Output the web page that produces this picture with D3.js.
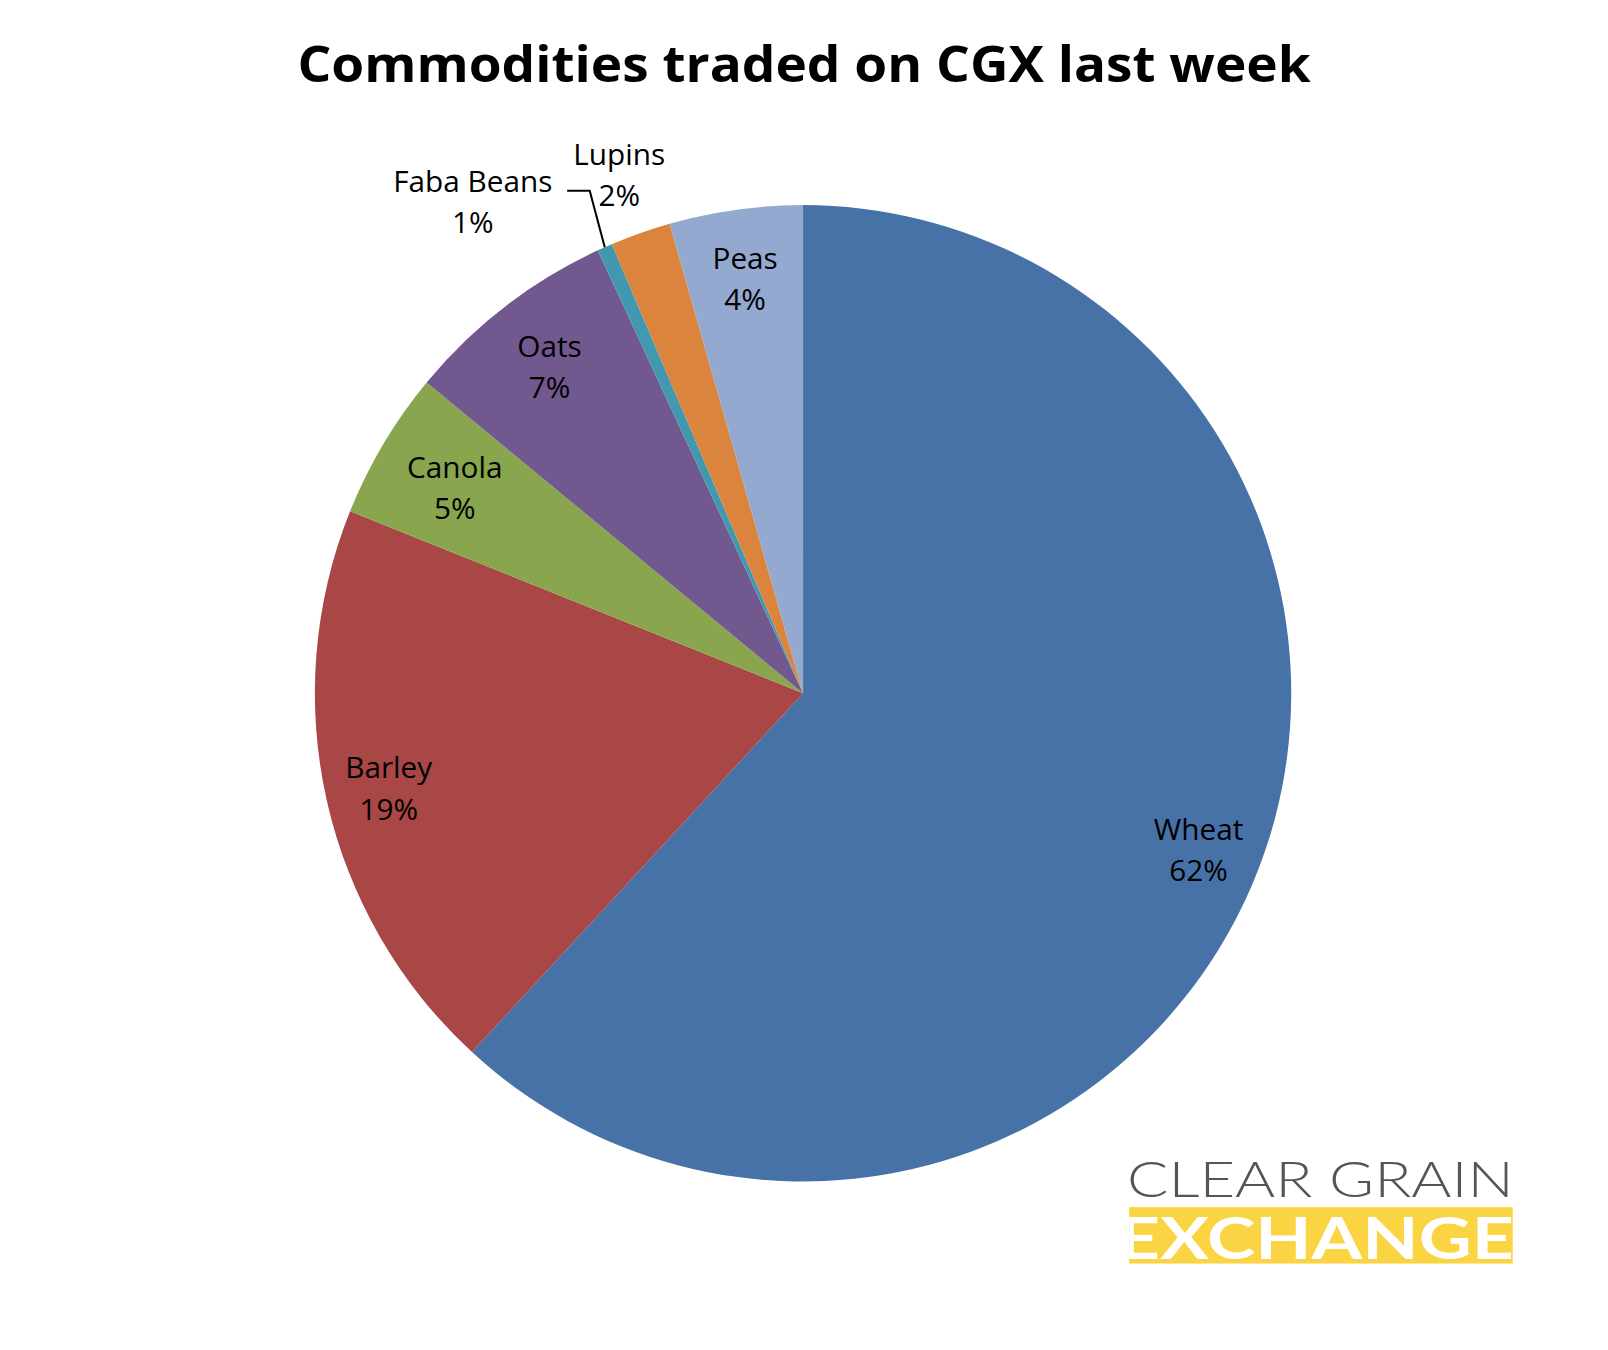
<!DOCTYPE html>
<html><head><meta charset="utf-8">
<script src="https://cdn.jsdelivr.net/npm/d3@7"></script>
<style>body{margin:0;background:#fff}</style>
</head><body>
<svg id="chart" width="1608" height="1350"></svg>
<script>
const categories = ['Wheat', 'Barley', 'Canola', 'Oats', 'Faba Beans', 'Lupins', 'Peas']
const values = [61.8, 19.2, 4.9, 7.1, 0.5, 2.0, 4.4]
const pctLabels = ['62%', '19%', '5%', '7%', '1%', '2%', '4%']
const colors = ['#4672a7', '#a84745', '#89a54e', '#71588f', '#4198af', '#db843d', '#93a9cf']

// layout was measured on a 0.975-scaled view; scale back up
const svg = d3.select('#chart').append('g').attr('transform', 'scale(1.0256)')
const font = '"Open Sans", sans-serif'
const cx = 783, cy = 676, r = 476

svg.append('text')
  .text('Commodities traded on CGX last week')
  .attr('x', 784).attr('y', 80)
  .attr('text-anchor', 'middle')
  .attr('textLength', 988).attr('lengthAdjust', 'spacingAndGlyphs')
  .style('font-family', font).style('font-weight', 'bold').style('font-size', '48px')

const data = categories.map((c, i) => ({ name: c, value: values[i], pct: pctLabels[i], color: colors[i] }))
const pie = d3.pie().sort(null).value(d => d.value)
const arcs = pie(data)
const arc = d3.arc().innerRadius(0).outerRadius(r)

const g = svg.append('g').attr('transform', `translate(${cx},${cy})`)
g.selectAll('path').data(arcs).enter().append('path')
  .attr('d', arc).attr('fill', d => d.data.color)

// label radius factor per slice
const labelR = { Wheat: 0.87, Barley: 0.87, Canola: 0.83, Oats: 0.85, Peas: 0.86, Lupins: 1.13 }
arcs.forEach(a => {
  let x, y
  if (a.data.name === 'Faba Beans') {
    x = 461 - cx; y = 195 - cy
  } else {
    const c = d3.arc().innerRadius(0).outerRadius(2 * r * labelR[a.data.name]).centroid(a)
    x = c[0]; y = c[1]
  }
  const t = g.append('text').attr('text-anchor', 'middle')
    .style('font-family', font).style('font-size', '29px').attr('fill', '#000')
  t.append('tspan').attr('x', x).attr('y', y - 8).text(a.data.name)
  t.append('tspan').attr('x', x).attr('y', y + 32).text(a.data.pct)
  if (a.data.name === 'Faba Beans') {
    const mid = (a.startAngle + a.endAngle) / 2
    const ex = Math.sin(mid) * r, ey = -Math.cos(mid) * r
    g.append('polyline')
      .attr('points', `${553 - cx},${186 - cy} ${575 - cx},${186 - cy} ${ex},${ey}`)
      .attr('fill', 'none').attr('stroke', '#000').attr('stroke-width', 2)
  }
})

// logo
const logo = svg.append('g')
logo.append('text').text('CLEAR GRAIN')
  .attr('x', 1099).attr('y', 1167)
  .attr('textLength', 377).attr('lengthAdjust', 'spacingAndGlyphs')
  .style('font-family', 'Lato, sans-serif').style('font-weight', 300)
  .style('font-size', '48px').attr('fill', '#555')
logo.append('rect').attr('x', 1101).attr('y', 1177).attr('width', 374).attr('height', 55).attr('fill', '#fbd444')
logo.append('clipPath').attr('id', 'lc').append('rect').attr('x', 1101).attr('y', 1177).attr('width', 374).attr('height', 51)
logo.append('text').text('EXCHANGE')
  .attr('clip-path', 'url(#lc)')
  .attr('x', 1090).attr('y', 1228)
  .attr('textLength', 386).attr('lengthAdjust', 'spacingAndGlyphs')
  .style('font-family', 'Lato, sans-serif').style('font-weight', 'bold')
  .style('font-size', '56px').attr('fill', '#fff')
</script>
</body></html>
